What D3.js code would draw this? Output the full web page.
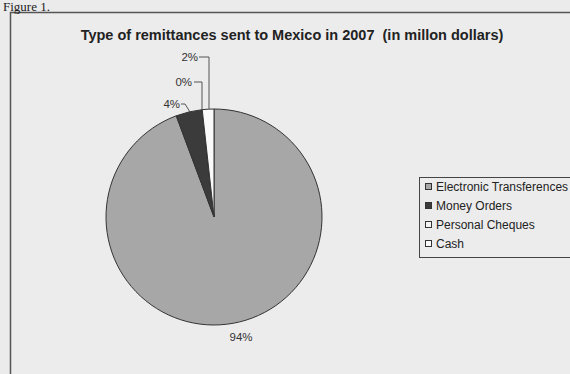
<!DOCTYPE html>
<html>
<head>
<meta charset="utf-8">
<script src="https://cdn.jsdelivr.net/npm/d3@7"></script>
<style>
  html, body { margin: 0; padding: 0; background: #ebebeb; }
  svg { display: block; }
  text { white-space: pre; }
</style>
</head>
<body>
<svg id="chart" width="570" height="374"></svg>
<script>
// Remittances to Mexico by type, 2007 (million dollars)
const categories = ["Electronic Transferences", "Money Orders", "Personal Cheques", "Cash"];
const values = [24400, 1020, 0, 450];
const colors = ["#a7a7a7", "#3b3b3b", "#f4f4f4", "#fafafa"];
const title = "Type of remittances sent to Mexico in 2007  (in millon dollars)";

const svg = d3.select("#chart");
const W = 570, H = 374;

svg.append("rect").attr("width", W).attr("height", H).attr("fill", "#ebebeb");

// Chart frame
svg.append("rect")
  .attr("x", 10.5).attr("y", 12.5)
  .attr("width", W + 20).attr("height", H + 20)
  .attr("fill", "#ececec")
  .attr("stroke", "#555").attr("stroke-width", 1.5);

// Caption above the frame
svg.append("text")
  .attr("x", 3).attr("y", 11)
  .attr("font-family", "Liberation Serif, Times New Roman, serif")
  .attr("font-size", 13)
  .attr("fill", "#222")
  .text("Figure 1.");

svg.append("text")
  .attr("x", 292).attr("y", 40)
  .attr("text-anchor", "middle")
  .attr("font-family", "Liberation Sans, Arial, sans-serif")
  .attr("font-weight", "bold")
  .attr("font-size", 14.5)
  .attr("fill", "#222")
  .text(title);

// Pie
const cx = 214, cy = 217, r = 108;
const total = d3.sum(values);
const pie = d3.pie().sort(null).value(d => d.v);
const data = categories.map((c, i) => ({ c, v: values[i], color: colors[i] }));
const arcs = pie(data);
const arc = d3.arc().innerRadius(0).outerRadius(r);

const g = svg.append("g").attr("transform", `translate(${cx},${cy})`);
g.selectAll("path").data(arcs).join("path")
  .attr("d", arc)
  .attr("fill", d => d.data.color)
  .attr("stroke", "#333")
  .attr("stroke-width", 1);

const pct = d => Math.round(d.data.v / total * 100) + "%";

// Label positions and leader paths (relative to the pie centre)
const labelLayout = [
  { x: 27, y: 124, anchor: "middle", leader: null },
  { x: -34, y: -109, anchor: "end", leader: [[-33, -113], [-29, -113], [-24, -105]] },
  { x: -22, y: -131, anchor: "end", leader: [[-20, -135], [-12, -135], [-12, -107]] },
  { x: -16, y: -156, anchor: "end", leader: [[-15, -160], [-5, -160], [-5, -108]] }
];

arcs.forEach((a, i) => {
  const L = labelLayout[i];
  if (L.leader) {
    g.append("path")
      .attr("d", d3.line()(L.leader))
      .attr("fill", "none")
      .attr("stroke", "#555")
      .attr("stroke-width", 1);
  }
  g.append("text")
    .attr("x", L.x).attr("y", L.y)
    .attr("text-anchor", L.anchor)
    .attr("font-family", "Liberation Sans, Arial, sans-serif")
    .attr("font-size", 11.5)
    .attr("fill", "#333")
    .text(pct(a));
});

// Legend
const legend = svg.append("g").attr("transform", "translate(419,177)");
legend.append("rect")
  .attr("x", 0.5).attr("y", 0.5)
  .attr("width", 170).attr("height", 80)
  .attr("fill", "#ececec")
  .attr("stroke", "#444").attr("stroke-width", 1);

const rows = legend.selectAll("g.row").data(data).join("g")
  .attr("class", "row")
  .attr("transform", (d, i) => `translate(6,${10 + i * 19})`);
rows.append("rect")
  .attr("x", 0.5).attr("y", -3.5)
  .attr("width", 6).attr("height", 6)
  .attr("fill", d => d.color)
  .attr("stroke", "#333").attr("stroke-width", 1);
rows.append("text")
  .attr("x", 11).attr("y", 4)
  .attr("font-family", "Liberation Sans, Arial, sans-serif")
  .attr("font-size", 12)
  .attr("fill", "#222")
  .text(d => d.c);
</script>
</body>
</html>
